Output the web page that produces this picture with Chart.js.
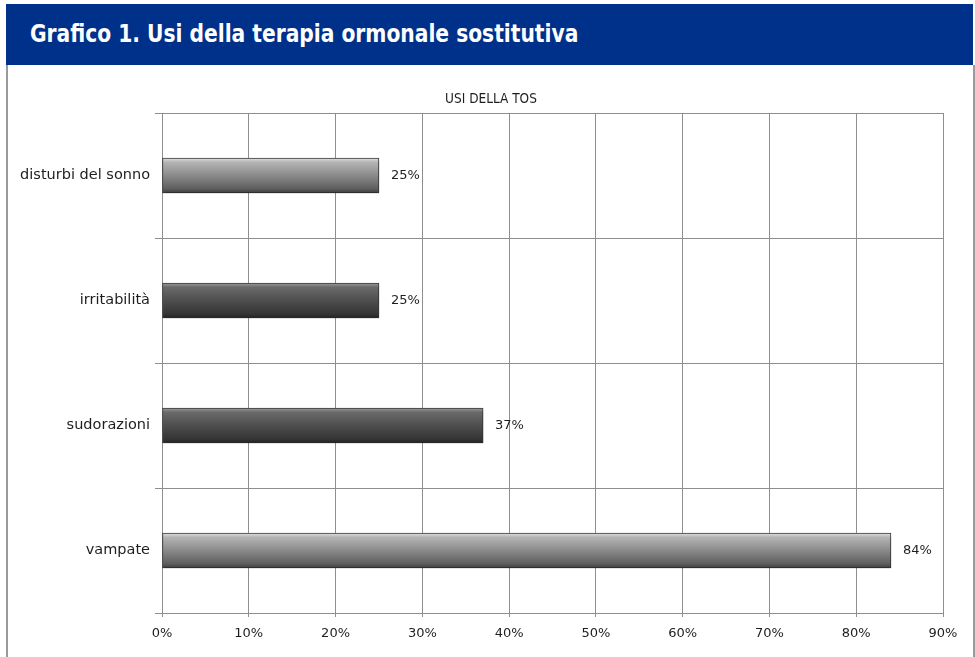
<!DOCTYPE html>
<html>
<head>
<meta charset="utf-8">
<script src="https://cdn.jsdelivr.net/npm/chart.js@4.4.1/dist/chart.umd.min.js"></script>
<style>
  html, body { margin: 0; padding: 0; background: #ffffff; }
  body { width: 975px; height: 657px; position: relative; overflow: hidden; }
  #header {
    position: absolute; left: 6px; top: 4px; width: 967px; height: 61px;
    background: #00318a;
  }
  #header span {
    position: absolute; left: 24px; top: 16px;
    font-family: "Liberation Sans Narrow", "DejaVu Sans Condensed", Roboto, sans-serif;
    font-weight: bold; font-size: 25px; line-height: 28px; color: #ffffff;
    white-space: nowrap;
    transform: scaleX(0.9); transform-origin: 0 50%;
  }
  #box {
    position: absolute; left: 6px; top: 65px; width: 965px; height: 600px;
    border-left: 2px solid #9a9a9a; border-right: 2px solid #9a9a9a;
  }
  #c { position: absolute; left: 8px; top: 65px; }
</style>
</head>
<body>
<div id="header"><span>Grafico 1. Usi della terapia ormonale sostitutiva</span></div>
<div id="box"></div>
<canvas id="c" width="964" height="592"></canvas>
<script>
// ---- data ----
const categories = ["disturbi del sonno", "irritabilità", "sudorazioni", "vampate"];
const values = [25, 25, 37, 84];
const tickValues = [0, 10, 20, 30, 40, 50, 60, 70, 80, 90];
const chartTitle = "USI DELLA TOS";

// ---- styles ----
const barTones = ["light", "dark", "dark", "light"];
const tonePalettes = {
  light: [[0, "#e2e2e2"], [0.12, "#b4b4b4"], [0.5, "#8a8a8a"], [0.88, "#5e5e5e"], [1, "#3c3c3c"]],
  dark:  [[0, "#9c9c9c"], [0.12, "#6a6a6a"], [0.5, "#4e4e4e"], [0.88, "#353535"], [1, "#222222"]]
};
const BAR_THICK = 35;
const GRID = "#8e8e8e";
const TEXT = "#1e1e1e";

const centeredTitle = {
  id: "centeredTitle",
  afterDraw(chart) {
    const ctx = chart.ctx;
    ctx.save();
    ctx.font = "13.5px 'Liberation Sans Narrow', 'DejaVu Sans Condensed', Roboto, sans-serif";
    ctx.fillStyle = TEXT;
    ctx.textAlign = "center";
    ctx.textBaseline = "middle";
    ctx.fillText(chartTitle, chart.width / 2 + 1, chart.chartArea.top - 14);
    ctx.restore();
  }
};

const valueLabels = {
  id: "valueLabels",
  afterDatasetsDraw(chart) {
    const ctx = chart.ctx;
    const meta = chart.getDatasetMeta(0);
    ctx.save();
    ctx.font = "13px 'DejaVu Sans'";
    ctx.fillStyle = TEXT;
    ctx.textAlign = "left";
    ctx.textBaseline = "middle";
    meta.data.forEach((el, i) => {
      ctx.fillText(values[i] + "%", el.x + 12, el.y);
    });
    ctx.restore();
  }
};

const barShadow = {
  id: "barShadow",
  beforeDatasetsDraw(chart) {
    const ctx = chart.ctx;
    ctx.save();
    ctx.shadowColor = "rgba(0,0,0,0.30)";
    ctx.shadowOffsetX = 1;
    ctx.shadowOffsetY = 3;
    ctx.shadowBlur = 3;
  },
  afterDatasetsDraw(chart) {
    chart.ctx.restore();
  }
};

function barFill(context) {
  const chart = context.chart;
  const yScale = chart.scales.y;
  const tone = tonePalettes[barTones[context.dataIndex]];
  if (!yScale || !chart.chartArea) return tone[2][1];
  const cy = yScale.getPixelForValue(context.dataIndex);
  const g = chart.ctx.createLinearGradient(0, cy - BAR_THICK / 2, 0, cy + BAR_THICK / 2);
  tone.forEach(([stop, col]) => g.addColorStop(stop, col));
  return g;
}

new Chart(document.getElementById("c"), {
  type: "bar",
  data: {
    labels: categories,
    datasets: [{
      data: values,
      backgroundColor: barFill,
      borderColor: "#3a3a3a",
      borderWidth: 1,
      borderSkipped: false,
      barThickness: BAR_THICK
    }]
  },
  options: {
    indexAxis: "y",
    responsive: false,
    animation: false,
    devicePixelRatio: 1,
    layout: { padding: { top: 48, left: 0, right: 29, bottom: 0 } },
    plugins: {
      legend: { display: false },
      tooltip: { enabled: false },
      title: { display: false }
    },
    scales: {
      x: {
        type: "linear",
        min: tickValues[0],
        max: tickValues[tickValues.length - 1],
        afterBuildTicks(scale) { scale.ticks = tickValues.map(v => ({ value: v })); },
        afterFit(scale) { scale.height = 44; },
        ticks: {
          callback: v => v + "%",
          color: TEXT,
          font: { family: "'DejaVu Sans'", size: 13 },
          padding: 9,
          maxRotation: 0
        },
        grid: { color: GRID, lineWidth: 1, tickLength: 4, drawTicks: true },
        border: { display: true, color: GRID, width: 1 }
      },
      y: {
        type: "category",
        afterFit(scale) { scale.width = 154; },
        ticks: {
          color: TEXT,
          font: { family: "'DejaVu Sans'", size: 14.5 },
          padding: 5
        },
        grid: { offset: true, color: GRID, lineWidth: 1, tickLength: 7 },
        border: { display: true, color: GRID, width: 1 }
      }
    }
  },
  plugins: [barShadow, valueLabels, centeredTitle]
});
</script>
</body>
</html>
